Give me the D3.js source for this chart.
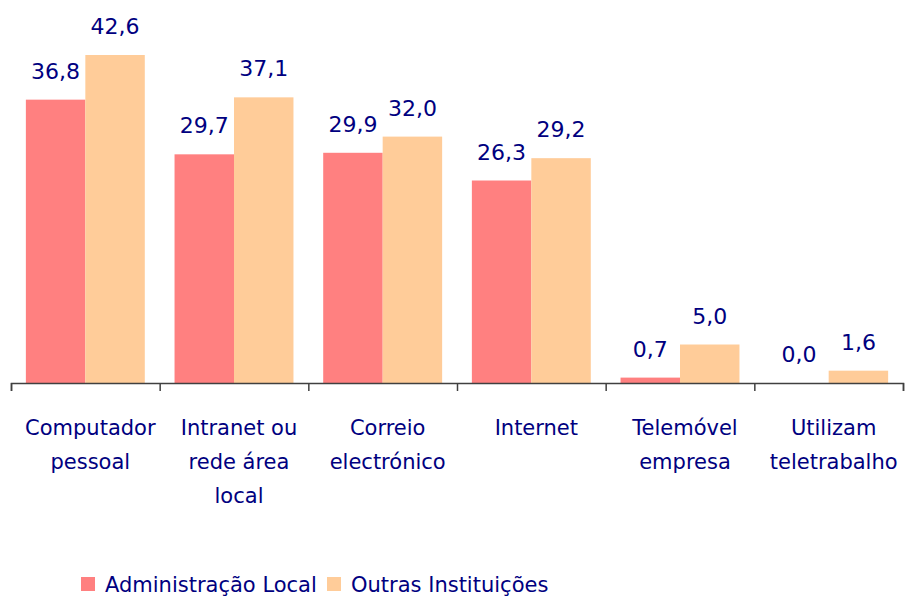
<!DOCTYPE html>
<html><head><meta charset="utf-8">
<script src="https://cdn.jsdelivr.net/npm/d3@7"></script>
<style>body{margin:0;background:#fff}svg{display:block}</style>
</head><body>
<svg id="c" width="909" height="596"></svg>
<script>
const categories = [
  ["Computador", "pessoal"],
  ["Intranet ou", "rede área", "local"],
  ["Correio", "electrónico"],
  ["Internet"],
  ["Telemóvel", "empresa"],
  ["Utilizam", "teletrabalho"]
];
const seriesNames = ["Administração Local", "Outras Instituições"];
const adminLocal = [36.8, 29.7, 29.9, 26.3, 0.7, 0.0];
const outras = [42.6, 37.1, 32.0, 29.2, 5.0, 1.6];
const colors = ["#FF8080", "#FFCC99"];
const textColor = "#000080";
const font = "'DejaVu Sans', Verdana, sans-serif";

const svg = d3.select("#c");
const keys = categories.map((c, i) => i);
const series = [adminLocal, outras];

const x0 = d3.scaleBand().domain(keys).range([11, 903]).paddingInner(0).paddingOuter(0);
const x1 = d3.scaleBand().domain([0, 1]).range([0, x0.bandwidth()]).paddingInner(0).paddingOuter(0.25);
const y = d3.scaleLinear().domain([0, 42.6]).range([383, 55]);
const fmt = v => v.toFixed(1).replace(".", ",");

const g = svg.append("g");
keys.forEach(i => {
  series.forEach((s, j) => {
    const v = s[i];
    g.append("rect")
      .attr("x", x0(i) + x1(j))
      .attr("y", y(v))
      .attr("width", x1.bandwidth())
      .attr("height", y(0) - y(v))
      .attr("fill", colors[j]);
    g.append("text")
      .attr("x", x0(i) + x1(j) + x1.bandwidth() / 2)
      .attr("y", y(v) - 21)
      .attr("text-anchor", "middle")
      .attr("font-family", font)
      .attr("font-size", 22)
      .attr("fill", textColor)
      .text(fmt(v));
  });
});

// axis with boundary ticks
const xb = d3.scaleLinear().domain([0, categories.length]).range([11, 903]);
const ax = svg.append("g").attr("transform", "translate(0,383)")
  .call(d3.axisBottom(xb).ticks(categories.length).tickFormat("").tickSizeOuter(0).tickSize(8));
ax.select(".domain").attr("stroke", "#404040").attr("stroke-width", 1.5);
ax.selectAll(".tick line").attr("stroke", "#404040").attr("stroke-width", 1.5);

// category labels
keys.forEach(i => {
  const t = svg.append("text")
    .attr("text-anchor", "middle")
    .attr("font-family", font)
    .attr("font-size", 21)
    .attr("fill", textColor);
  categories[i].forEach((line, k) => {
    t.append("tspan")
      .attr("x", x0(i) + x0.bandwidth() / 2 + 5)
      .attr("y", 435 + k * 34)
      .text(line);
  });
});

// legend
const lg = svg.append("g").attr("transform", "translate(81,0)");
const offs = [0, 246];
seriesNames.forEach((n, j) => {
  lg.append("rect").attr("x", offs[j]).attr("y", 577).attr("width", 14).attr("height", 14).attr("fill", colors[j]);
  lg.append("text").attr("x", offs[j] + 24).attr("y", 592)
    .attr("font-family", font).attr("font-size", 21).attr("fill", textColor).text(n);
});
</script>
</body></html>
